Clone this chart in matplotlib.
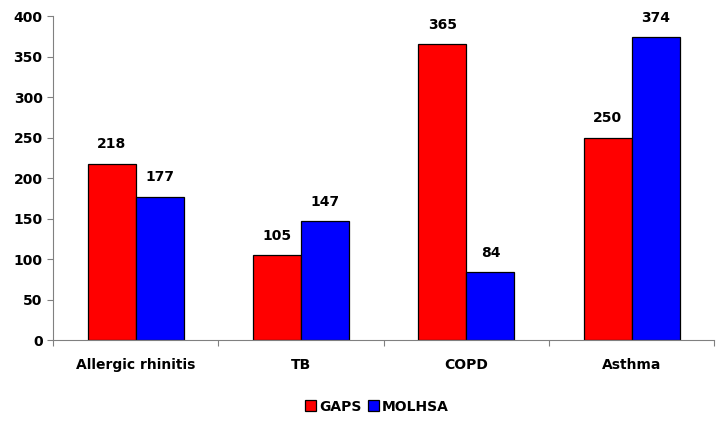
import numpy as np
import matplotlib.pyplot as plt

categories = ['Allergic rhinitis', 'TB', 'COPD', 'Asthma']
gaps = [218, 105, 365, 250]
molhsa = [177, 147, 84, 374]

plt.rcParams['font.family'] = ['DejaVu Sans']
plt.rcParams['font.weight'] = 'bold'

fig = plt.figure(figsize=(7.19, 4.23), dpi=100)
ax = fig.add_axes([0.0737, 0.196, 0.92, 0.766])

x = np.arange(len(categories))
w = 0.29
b1 = ax.bar(x - w / 2, gaps, w, color='#ff0000', edgecolor='black', linewidth=0.9, label='GAPS')
b2 = ax.bar(x + w / 2, molhsa, w, color='#0000ff', edgecolor='black', linewidth=0.9, label='MOLHSA')

for bars in (b1, b2):
    for r in bars:
        ax.annotate(str(int(r.get_height())), (r.get_x() + r.get_width() / 2, r.get_height()),
                    xytext=(0, 9), textcoords='offset points', ha='center', va='bottom',
                    fontsize=10, fontweight='bold')

ax.set_xlim(-0.5, len(categories) - 0.5)
ax.set_ylim(0, 400)
ax.set_yticks(np.arange(0, 401, 50))
ax.set_xticks(np.arange(-0.5, len(categories), 1.0))
ax.set_xticklabels([])
ax.set_xticks(x, minor=True)
ax.set_xticklabels(categories, minor=True)
ax.tick_params(axis='x', which='minor', length=0, pad=13, labelsize=10)
ax.tick_params(axis='x', which='major', length=4, direction='out', color='#808080')
ax.tick_params(axis='y', length=4, direction='out', labelsize=10, color='#808080')

for s in ['top', 'right']:
    ax.spines[s].set_visible(False)
for s in ['left', 'bottom']:
    ax.spines[s].set_color('#808080')

ax.legend(loc='upper center', bbox_to_anchor=(0.49, -0.145), ncol=2, frameon=False,
          fontsize=10, handlelength=0.8, handleheight=0.8, handletextpad=0.25,
          columnspacing=0.4)

fig.savefig('out.png', dpi=100)
